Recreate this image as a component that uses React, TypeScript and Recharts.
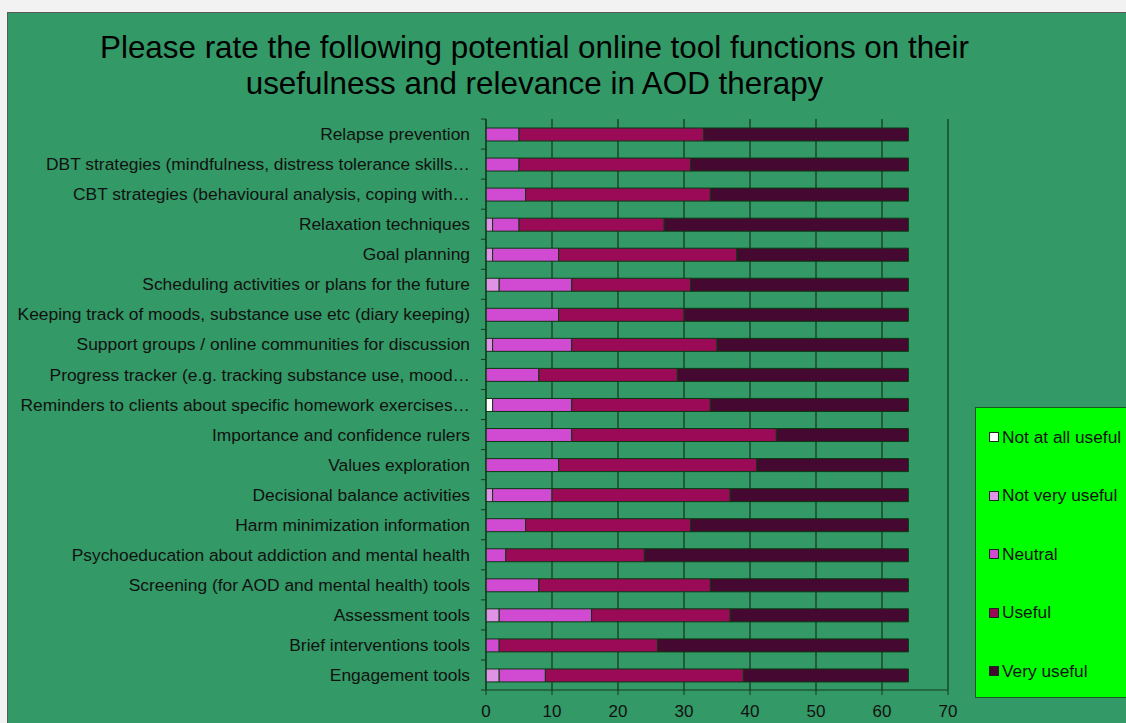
import React from "react";
import { BarChart, Bar, XAxis, YAxis, CartesianGrid, Legend } from "recharts";

const categories = [
  "Relapse prevention",
  "DBT strategies (mindfulness, distress tolerance skills…",
  "CBT strategies (behavioural analysis, coping with…",
  "Relaxation techniques",
  "Goal planning",
  "Scheduling activities or plans for the future",
  "Keeping track of moods, substance use etc (diary keeping)",
  "Support groups / online communities for discussion",
  "Progress tracker (e.g. tracking substance use, mood…",
  "Reminders to clients about specific homework exercises…",
  "Importance and confidence rulers",
  "Values exploration",
  "Decisional balance activities",
  "Harm minimization information",
  "Psychoeducation about addiction and mental health",
  "Screening (for AOD and mental health) tools",
  "Assessment tools",
  "Brief interventions tools",
  "Engagement tools",
];

const notAtAllUseful = [0, 0, 0, 0, 0, 0, 0, 0, 0, 1, 0, 0, 0, 0, 0, 0, 0, 0, 0];
const notVeryUseful = [0, 0, 0, 1, 1, 2, 0, 1, 0, 0, 0, 0, 1, 0, 0, 0, 2, 0, 2];
const neutral = [5, 5, 6, 4, 10, 11, 11, 12, 8, 12, 13, 11, 9, 6, 3, 8, 14, 2, 7];
const useful = [28, 26, 28, 22, 27, 18, 19, 22, 21, 21, 31, 30, 27, 25, 21, 26, 21, 24, 30];
const veryUseful = [31, 33, 30, 37, 26, 33, 34, 29, 35, 30, 20, 23, 27, 33, 40, 30, 27, 38, 25];

const xTicks = [0, 10, 20, 30, 40, 50, 60, 70];

const seriesNames = ["Not at all useful", "Not very useful", "Neutral", "Useful", "Very useful"];
const seriesKeys = ["notAtAll", "notVery", "neutral", "useful", "very"];
const seriesColors = ["#FFFFFF", "#E092E6", "#D04AD2", "#9A0A56", "#450830"];

const data = categories.map((name, i) => ({
  name,
  notAtAll: notAtAllUseful[i],
  notVery: notVeryUseful[i],
  neutral: neutral[i],
  useful: useful[i],
  very: veryUseful[i],
}));

const FONT = "'Liberation Sans', Arial, sans-serif";
const AXIS_COLOR = "#123a1c";

const YTick = (props: any) => {
  const { x, y, payload, index } = props;
  const half = 15;
  const last = index === categories.length - 1;
  return (
    <g>
      <line x1={x - 5} x2={x} y1={y - half} y2={y - half} stroke={AXIS_COLOR} strokeWidth={1} />
      {last && <line x1={x - 5} x2={x} y1={y + half} y2={y + half} stroke={AXIS_COLOR} strokeWidth={1} />}
      <text x={x - 16} y={y} dy="0.35em" textAnchor="end" fontSize={17.4} fontFamily={FONT} fill="#111">
        {payload.value}
      </text>
    </g>
  );
};

const LegendContent = () => (
  <div
    style={{
      position: "relative",
      width: 170,
      height: 291,
      background: "#00FF00",
      border: "1px solid #1a5a22",
      fontFamily: FONT,
      fontSize: 17.3,
      color: "#111",
      boxSizing: "border-box",
    }}
  >
    {seriesNames.map((n, i) => (
      <div
        key={n}
        style={{
          position: "absolute",
          left: 13,
          top: 29 + i * 58.5 - 10,
          height: 20,
          display: "flex",
          alignItems: "center",
          whiteSpace: "nowrap",
        }}
      >
        <span
          style={{
            display: "inline-block",
            width: 8,
            height: 8,
            background: seriesColors[i],
            border: "1px solid #1a2a1a",
            marginRight: 3,
          }}
        />
        <span>{n}</span>
      </div>
    ))}
  </div>
);

export default function App() {
  return (
    <>
      <div style={{ position: "fixed", left: 0, top: 0, width: 1126, height: 723, background: "#F2F2F2" }} />
      <div
        style={{
          position: "fixed",
          left: 7,
          top: 12,
          width: 1125,
          height: 720,
          background: "#339966",
          borderTop: "1px solid #5a5a5a",
          borderLeft: "1px solid #5a5a5a",
          overflow: "hidden",
        }}
      >
        <div
          style={{
            position: "absolute",
            left: 0,
            top: 17,
            width: 1053,
            textAlign: "center",
            fontFamily: FONT,
            fontSize: 31.4,
            lineHeight: "36px",
            color: "#000",
          }}
        >
          Please rate the following potential online tool functions on their
          <br />
          usefulness and relevance in AOD therapy
        </div>
        <div style={{ position: "absolute", left: 0, top: 0 }}>
          <BarChart
            width={1118}
            height={710}
            data={data}
            layout="vertical"
            margin={{ top: 106, right: 178, bottom: 3, left: 0 }}
            barSize={13}
          >
            <CartesianGrid horizontal={false} vertical={true} stroke="#0d1f14" strokeOpacity={1} />
            <XAxis
              type="number"
              domain={[0, 70]}
              ticks={xTicks}
              interval={0}
              height={30}
              stroke={AXIS_COLOR}
              tickSize={5}
              tick={{ fontSize: 17, fontFamily: FONT, fill: "#111" }}
              tickMargin={10}
            />
            <YAxis
              type="category"
              dataKey="name"
              width={478}
              interval={0}
              stroke={AXIS_COLOR}
              tickLine={false}
              tickSize={0}
              tickMargin={0}
              tick={<YTick />}
            />
            <Legend
              layout="vertical"
              align="center"
              verticalAlign="middle"
              content={<LegendContent />}
              wrapperStyle={{ left: 967, top: 394, width: 170, height: 291 }}
            />
            {seriesKeys.map((k, i) => (
              <Bar
                key={k}
                dataKey={k}
                name={seriesNames[i]}
                stackId="a"
                fill={seriesColors[i]}
                stroke="#0b3a12"
                strokeWidth={1}
                isAnimationActive={false}
              />
            ))}
          </BarChart>
        </div>
      </div>
    </>
  );
}
